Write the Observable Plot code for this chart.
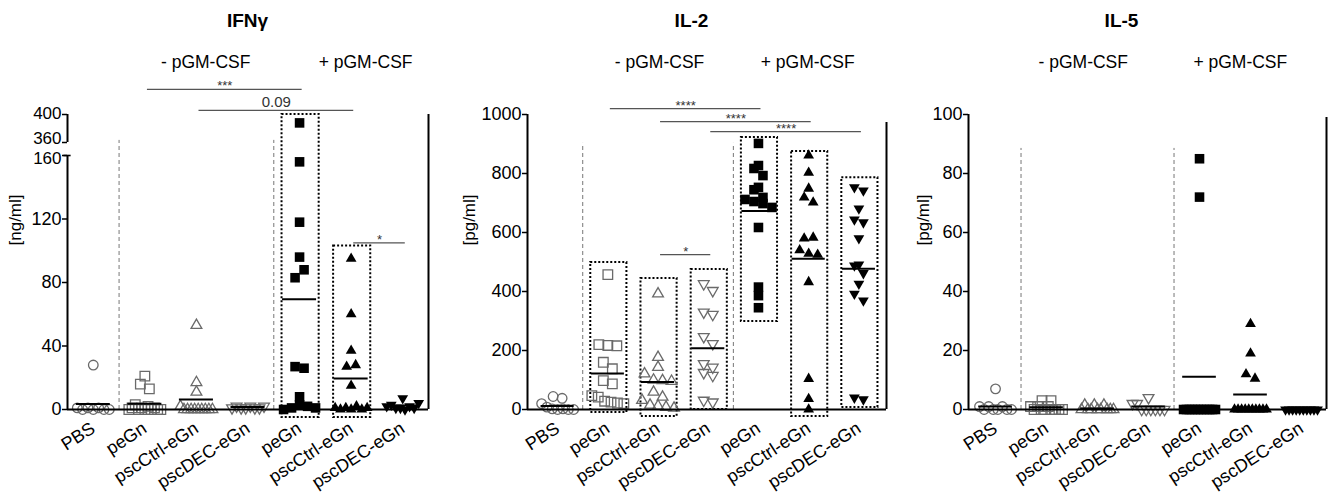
<!DOCTYPE html>
<html><head><meta charset="utf-8">
<script src="https://cdn.jsdelivr.net/npm/d3@7"></script>
<script src="https://cdn.jsdelivr.net/npm/@observablehq/plot@0.6"></script>
<style>
body{margin:0;background:#fff;}
#wrap{display:flex;width:1332px;height:501px;overflow:hidden;}
</style></head><body><div id="wrap"></div>
<script>
// ---------- data ----------
const groups = ["PBS","peGn","pscCtrl-eGn","pscDEC-eGn","peGn","pscCtrl-eGn","pscDEC-eGn"];
const conditionLabels = ["- pGM-CSF","+ pGM-CSF"];
const panelTitles = ["IFNγ","IL-2","IL-5"];
const unitLabels = ["[ng/ml]","[pg/ml]","[pg/ml]"];

// IFNγ [ng/ml]
const ifngPBS      = [1,0,1,0,28,1,0,0];
const ifngPeGn     = [0,1,16,13,3,0,21,1,0,2,0,1,0,0];
const ifngCtrl     = [2,17,53,0,11,0,0,0,0,0,0,0,0];
const ifngDEC      = [1,2,1,1,2,1,1,2];
const ifngPeGnP    = [0,1,388,156,118,83,96,88,27,26,3,8,2,1];
const ifngCtrlP    = [1,0,37,95,60,27,28,15,1,0,2,0,1];
const ifngDECP     = [2,3,1,1,0,2,1,7,4];
const ifngMeans    = [3.5,3.6,6.3,1.5,69.5,19.5,2.5];
const ifngTicks    = [0,40,80,120,160,360,400];

// IL-2 [pg/ml]
const il2PBS       = [20,8,44,2,0,2,38,0,0];
const il2PeGn      = [457,220,217,216,160,138,98,87,47,42,28,25,22,20];
const il2Ctrl      = [392,177,143,121,100,98,96,59,42,31,15,12,8,5];
const il2DEC       = [426,403,330,322,247,223,155,143,125,115,31,25];
const il2PeGnP     = [902,827,817,793,753,745,719,712,705,698,685,617,415,386,345];
const il2CtrlP     = [861,803,749,719,702,580,583,540,528,525,432,104,36,0];
const il2DECP      = [753,742,681,644,634,580,491,488,462,426,392,369,40,34];
const il2Means     = [12,122,93,208,673,511,477];
const il2Ticks     = [0,200,400,600,800,1000];

// IL-5 [pg/ml]
const il5PBS       = [1,0,7,1,0,0,1,0,0];
const il5PeGn      = [1,3,0,1,0,3,0,1,0,0,0,0];
const il5Ctrl      = [0,1.5,0,0,1.5,0,0,1.5,0,0,0];
const il5DEC       = [2,2,0,0,0,0,0,0,4];
const il5PeGnP     = [85,72,0,0,0,0,0,0,0,0,0,0,0,0];
const il5CtrlP     = [29,19,12,10.5,0,0,0,0,0,0,0,0,0,0];
const il5DECP      = [0,0,0,0,0,0,0,0,0,0];
const il5Means     = [1,0.8,0.3,1,11.1,5.1,0];
const il5Ticks     = [0,20,40,60,80,100];

// significance comparisons (group index a vs b)
const ifngSig = [{a:1,b:4,level:436,label:"***"},{a:2,b:5,level:406,label:"0.09"},{a:5,b:6,level:105,label:"*"}];
const il2Sig  = [{a:1,b:4,level:1020,label:"****"},{a:2,b:5,level:976,label:"****"},{a:3,b:6,level:942,label:"****"},{a:2,b:3,level:525,label:"*"}];
const il5Sig  = [];

// dotted highlight boxes (group, low, high in data units)
const ifngBoxes = [{g:4,lo:-5,hi:400},{g:5,lo:-5,hi:103}];
const il2Boxes  = [{g:1,lo:-10,hi:498},{g:2,lo:-24,hi:444},{g:3,lo:0,hi:475},{g:4,lo:298,hi:922},{g:5,lo:-24,hi:875},{g:6,lo:7,hi:786}];
const il5Boxes  = [];

// ---------- layout ----------
const FONT = '"Liberation Sans", Arial, Helvetica, sans-serif';
const symbols  = ["circle","square","triangle","triangle","square","triangle","triangle"];
const rotates  = [0,0,0,180,0,0,180];
const radii    = [4.8,5.4,4,4,5.4,4,4];
const filled   = [false,false,false,false,true,true,true];

const panels = [
  {title: panelTitles[0], unit: unitLabels[0], series:[ifngPBS,ifngPeGn,ifngCtrl,ifngDEC,ifngPeGnP,ifngCtrlP,ifngDECP],
   means: ifngMeans, ticks: ifngTicks, yDomain:[0,160,360,400], yRange:[409,155,142,114],
   mL:67, mR:16, xDomain:[-0.5,6.5], segs:[[0,160],[360,400]], breakAt:160, rightTop:400, sepTop:363,
   sig: ifngSig, boxes: ifngBoxes, condX:[2.18,5.28], unitX:15, titleX:247, nudge:{160:3, 360:-3.5, 400:-1}},
  {title: panelTitles[1], unit: unitLabels[1], series:[il2PBS,il2PeGn,il2Ctrl,il2DEC,il2PeGnP,il2CtrlP,il2DECP],
   means: il2Means, ticks: il2Ticks, yDomain:[0,1000], yRange:[409,114],
   mL:83, mR:2, xDomain:[-0.6,6.55], segs:[[0,1000]], breakAt:null, rightTop:973, sepTop:902,
   sig: il2Sig, boxes: il2Boxes, condX:[2.03,4.98], unitX:25, titleX:247, nudge:{}},
  {title: panelTitles[2], unit: unitLabels[2], series:[il5PBS,il5PeGn,il5Ctrl,il5DEC,il5PeGnP,il5CtrlP,il5DECP],
   means: il5Means, ticks: il5Ticks, yDomain:[0,100], yRange:[409,114],
   mL:80, mR:6, xDomain:[-0.53,6.49], segs:[[0,100]], breakAt:null, rightTop:99, sepTop:88.5,
   sig: il5Sig, boxes: il5Boxes, condX:[1.72,4.80], unitX:35, titleX:233, nudge:{}}
];

// deterministic scatter spreading (GraphPad-like): points with near-equal
// pixel heights are spread evenly across the column width
function spread(vals, ypx, pxPerX) {
  const idx = vals.map((v,i)=>i).sort((a,b)=>vals[a]-vals[b] || a-b);
  const out = new Array(vals.length).fill(0);
  let cl = [];
  const flush = () => {
    const n = cl.length;
    cl.sort((a,b)=>a-b);
    const w = Math.min((n-1)*9, 32);
    cl.forEach((k,j)=>{ out[k] = n===1 ? 0 : (-w/2 + j*w/(n-1))/pxPerX; });
    cl = [];
  };
  for (const k of idx) {
    if (cl.length && Math.abs(ypx(vals[k]) - ypx(vals[cl[0]])) > 8) flush();
    cl.push(k);
  }
  flush();
  return out;
}

const W = 444, H = 501, MT = 114, MB = 92;
const wrap = document.getElementById("wrap");

for (const p of panels) {
  const ypx = d3.scaleLinear().domain(p.yDomain).range(p.yRange);
  const pxPerX = (W - p.mL - p.mR)/(p.xDomain[1]-p.xDomain[0]);
  const x0 = p.xDomain[0], x1 = p.xDomain[1];
  const points = [];
  p.series.forEach((vals,g)=>{
    const off = spread(vals, ypx, pxPerX);
    vals.forEach((v,i)=>points.push({g, v, x: g + off[i]}));
  });
  const dotMarks = groups.map((_,g)=>Plot.dot(points.filter(d=>d.g===g), {
    x:"x", y:"v", symbol: symbols[g], r: radii[g], rotate: rotates[g],
    fill: filled[g] ? "#000" : "none", stroke: filled[g] ? "none" : "#6a6a6a", strokeWidth: 1.3
  }));
  // y tick labels (with small nudges where the broken axis crowds them)
  const nudgeVals = Array.from(new Set(p.ticks.map(t=>p.nudge[t] || 0)));
  const yLabelMarks = nudgeVals.map(n => Plot.text(p.ticks.filter(t=>(p.nudge[t]||0)===n), {
    x: x0, y: d=>d, text: d=>String(d), textAnchor:"end", dx:-6, dy:n, fontSize: n ? 17 : 18, fill:"#000"
  }));
  const starSig = p.sig.filter(d=>d.label.includes("*"));
  const numSig = p.sig.filter(d=>!d.label.includes("*"));
  const marks = [
    Plot.ruleX([0.5,3.5], {y1:0, y2:p.sepTop, stroke:"#777", strokeWidth:1, strokeDasharray:"4,3"}),
    Plot.rect(p.boxes, {x1:d=>d.g-0.34, x2:d=>d.g+0.38, y1:"lo", y2:"hi", fill:"none", stroke:"#000", strokeWidth:2, strokeDasharray:"2,2"}),
    ...dotMarks,
    Plot.ruleY(p.means, {y:d=>d, x1:(d,i)=>i-0.33, x2:(d,i)=>i+0.33, stroke:"#000", strokeWidth:2}),
    // axes
    Plot.ruleY(p.ticks, {y:d=>d, x1:x0-5/pxPerX, x2:x0, stroke:"#000", strokeWidth:1.5}),
    ...yLabelMarks,
    Plot.axisX({ticks:d3.range(7), tickFormat:i=>groups[i], tickRotate:-33, tickSize:0, tickPadding:17, fontSize:18, label:null}),
    Plot.ruleX(p.segs, {x:x0, y1:d=>d[0], y2:d=>d[1], stroke:"#000", strokeWidth:2}),
    Plot.ruleY([0], {x1:x0, x2:x1, stroke:"#000", strokeWidth:2}),
    Plot.ruleX([x1], {y1:0, y2:p.rightTop, stroke:"#000", strokeWidth:2}),
    p.breakAt != null ? Plot.ruleY([p.breakAt], {x1:x0-0.07, x2:x0+0.07, stroke:"#000", strokeWidth:1.6}) : null,
    // significance
    Plot.ruleY(p.sig, {y:"level", x1:d=>d.a+0.05, x2:d=>d.b+0.05, stroke:"#555", strokeWidth:1.2}),
    Plot.text(starSig, {x:d=>(d.a+d.b)/2+0.05, y:"level", text:"label", fontSize:13, dy:-3, fill:"#333"}),
    Plot.text(numSig, {x:d=>(d.a+d.b)/2+0.05, y:"level", text:"label", fontSize:15, dy:-8, fill:"#333"}),
    // labels
    Plot.text([p.title], {frameAnchor:"top-left", lineAnchor:"middle", dx:p.titleX-p.mL, dy:-94, fontSize:19, fontWeight:"bold", textAnchor:"middle", fill:"#000"}),
    Plot.text(conditionLabels, {x:(d,i)=>p.condX[i], frameAnchor:"top", lineAnchor:"middle", dy:-52, fontSize:17.5, fill:"#000"}),
    Plot.text([p.unit], {frameAnchor:"left", dx:p.unitX-p.mL, dy:-16.5, rotate:-90, fontSize:17, fill:"#000"})
  ].filter(Boolean);
  const chart = Plot.plot({
    width: W, height: H, marginLeft: p.mL, marginRight: p.mR, marginTop: MT, marginBottom: MB,
    x: {type:"linear", domain: p.xDomain},
    y: {type:"linear", domain: p.yDomain, range: p.yRange, axis: null},
    style: {fontFamily: FONT, color:"#000", background:"#fff", overflow:"visible"},
    marks
  });
  wrap.appendChild(chart);
}
</script></body></html>
